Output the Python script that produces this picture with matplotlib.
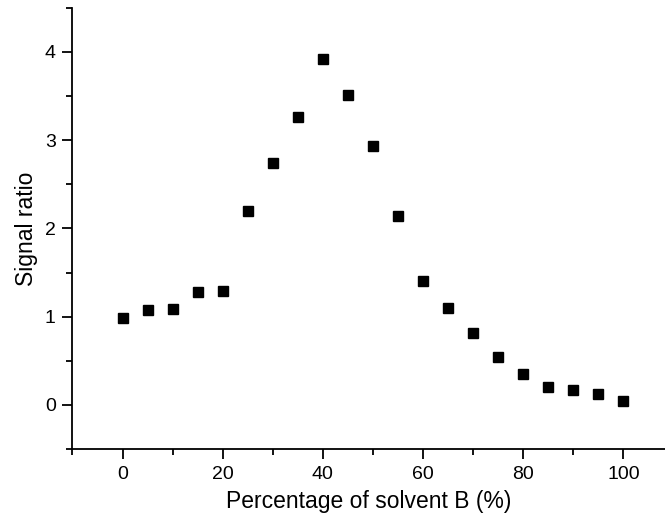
import matplotlib
matplotlib.use("Agg")
import matplotlib.pyplot as plt
from matplotlib.ticker import MultipleLocator

percent_b = [0, 5, 10, 15, 20, 25, 30, 35, 40, 45, 50, 55, 60, 65, 70, 75, 80, 85, 90, 95, 100]
signal_ratio = [0.99, 1.08, 1.09, 1.28, 1.29, 2.20, 2.74, 3.26, 3.92, 3.51, 2.93, 2.14,
                1.41, 1.10, 0.815, 0.54, 0.355, 0.20, 0.166, 0.12, 0.04]

plt.rcParams['font.family'] = ['Liberation Sans', 'DejaVu Sans']

fig = plt.figure(figsize=(6.65, 5.18), dpi=100)
ax = fig.add_axes([0.109, 0.133, 0.891, 0.852])
ax.plot(percent_b, signal_ratio, linestyle='none', marker='s', markersize=7.2,
        color='black', clip_on=False)

ax.set_xlim(-10, 108.3)
ax.set_ylim(-0.5, 4.5)
ax.xaxis.set_major_locator(MultipleLocator(20))
ax.xaxis.set_minor_locator(MultipleLocator(10))
ax.yaxis.set_major_locator(MultipleLocator(1))
ax.yaxis.set_minor_locator(MultipleLocator(0.5))
ax.spines['top'].set_visible(False)
ax.spines['right'].set_visible(False)
for s in ['left', 'bottom']:
    ax.spines[s].set_linewidth(1.3)
ax.tick_params(which='major', direction='out', length=7, width=1.3, labelsize=14, pad=5)
ax.tick_params(which='minor', direction='out', length=4, width=1.3)
ax.set_xlabel('Percentage of solvent B (%)', fontsize=16.5, labelpad=5)
ax.set_ylabel('Signal ratio', fontsize=16.5, labelpad=5)

fig.savefig('out.png', dpi=100)
